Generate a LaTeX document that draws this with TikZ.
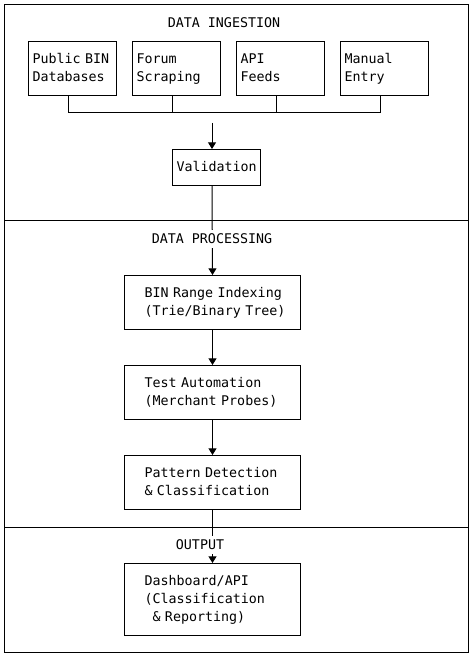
\documentclass[tikz,border=0pt]{standalone}
\usepackage{fontspec}
\setmonofont{DejaVu Sans Mono}[WordSpace={1,0,0}]
\usetikzlibrary{arrows.meta}
\newcommand\diagfont{\ttfamily\fontsize{10}{13.5}\selectfont
  \spaceskip=\fontdimen2\font\relax\xspaceskip=\fontdimen2\font\relax}
\tikzset{
  boxfont/.style={font=\diagfont},
  srcbox/.style={boxfont, draw, anchor=north west, align=left, inner ysep=0pt,
    inner xsep=3pt, text width=60pt, minimum width=66pt, minimum height=40.5pt,
    execute at begin node=\strut, execute at end node=\strut},
  valbox/.style={srcbox, minimum height=27pt},
  stagebox/.style={srcbox, inner xsep=15pt, text width=102pt, minimum width=132pt},
  title/.style={boxfont, fill=white, inner xsep=1pt, inner ysep=3pt}
}
\begin{document}
\begin{tikzpicture}[x=0.75pt,y=-0.75pt,line width=0.75pt,>={Triangle[width=6pt,length=5pt]}]
  \useasboundingbox (0,0) rectangle (473,655);
  \draw (4,5) rectangle (468,652);
  \draw (4,221) -- (468,221);
  \draw (4,527) -- (468,527);
  % ingestion
  \node[srcbox] (pub) at (28,41) {Public~BIN\\Databases};
  \node[srcbox] (forum) at (132,41) {Forum\\Scraping};
  \node[srcbox] (api) at (236,41) {API\\Feeds};
  \node[srcbox] (manual) at (340,41) {Manual\\Entry};
  \node[valbox] (valid) at (172,149) {Validation};
  % processing
  \node[stagebox] (index) at (124,275) {BIN~Range~Indexing\\(Trie/Binary~Tree)};
  \node[stagebox] (probe) at (124,365) {Test Automation\\(Merchant Probes)};
  \node[stagebox] (pattern) at (124,455) {Pattern Detection\\\& Classification};
  % output
  \node[stagebox, minimum height=54pt] (dash) at (124,563)
    {Dashboard/API\\(Classification\\\hspace*{.602em}\& Reporting)};
  \coordinate (bus) at (212,113);
  \coordinate (feed) at (212,123);
  \draw ([xshift=-3pt]pub.south) |- ([xshift=-3pt]manual.south |- bus) -- ([xshift=-3pt]manual.south);
  \draw ([xshift=-3pt]forum.south) -- ([xshift=-3pt]forum.south |- bus);
  \draw ([xshift=-3pt]api.south) -- ([xshift=-3pt]api.south |- bus);
  \draw[->] (feed) -- (feed |- valid.north);
  \draw[->] (feed |- valid.south) -- (index.north);
  \draw[->] (index.south) -- (probe.north);
  \draw[->] (probe.south) -- (pattern.north);
  \draw[->] (pattern.south) -- (dash.north);
  \node[title] (ingest) at (224,23) {DATA INGESTION};
  \node[title] (process) at (212,239) {DATA PROCESSING};
  \node[title] (output) at (200,545) {OUTPUT};
\end{tikzpicture}
\end{document}
